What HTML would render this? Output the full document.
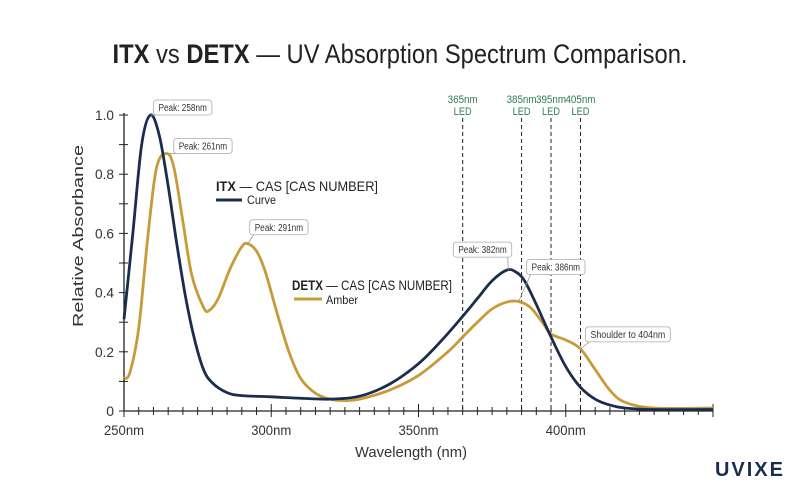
<!DOCTYPE html>
<html><head><meta charset="utf-8"><style>
html,body{margin:0;padding:0;background:#fff;}
svg{display:block;font-family:"Liberation Sans Narrow","Liberation Sans",sans-serif;}
</style></head><body>
<svg id="chart" width="800" height="500" viewBox="0 0 800 500">
<text x="400" y="63" text-anchor="middle" font-size="27" fill="#222" textLength="575" lengthAdjust="spacingAndGlyphs"><tspan font-weight="bold">ITX</tspan> vs <tspan font-weight="bold">DETX</tspan> — UV Absorption Spectrum Comparison.</text>
<g id="grid"></g>
<g id="axes"></g>
<g id="series"></g>
<g id="notes"></g>
<text x="83" y="236" transform="rotate(-90 83 236)" text-anchor="middle" font-size="15" fill="#333" textLength="182" lengthAdjust="spacingAndGlyphs">Relative Absorbance</text>
<text x="355" y="457" font-size="15" fill="#333" textLength="112" lengthAdjust="spacingAndGlyphs">Wavelength (nm)</text>
<g>
<text x="216" y="191" font-size="14" fill="#222" textLength="162" lengthAdjust="spacingAndGlyphs"><tspan font-weight="bold">ITX</tspan> — CAS [CAS NUMBER]</text>
<line x1="216" y1="200" x2="242" y2="200" stroke="#1b2d4f" stroke-width="3"/>
<text x="247" y="204" font-size="12" fill="#222" textLength="29" lengthAdjust="spacingAndGlyphs">Curve</text>
</g>
<g>
<text x="292" y="290" font-size="14" fill="#222" textLength="160" lengthAdjust="spacingAndGlyphs"><tspan font-weight="bold">DETX</tspan> — CAS [CAS NUMBER]</text>
<line x1="294" y1="299" x2="322" y2="299" stroke="#c99a3a" stroke-width="3"/>
<text x="326" y="304" font-size="12" fill="#222" textLength="32" lengthAdjust="spacingAndGlyphs">Amber</text>
</g>
<text x="785" y="476" text-anchor="end" font-family="Liberation Sans,sans-serif" font-weight="bold" font-size="20" letter-spacing="2" fill="#1b2d4f">UVIXE</text>
</svg>
<script>
const itxNm=[250,253,256,259,262,265,268,271,274,277,280,285,290,300,310,320,330,340,350,358,365,370,375,380,383,386,390,395,400,405,410,415,420,430,450];
const itxVal=[0.31,0.6,0.9,1.0,0.93,0.76,0.56,0.38,0.24,0.14,0.095,0.062,0.052,0.048,0.043,0.04,0.05,0.09,0.16,0.24,0.32,0.38,0.44,0.476,0.47,0.44,0.36,0.25,0.15,0.08,0.04,0.02,0.01,0.005,0.005];
const detxNm=[250,252,255,258,261,264.5,267,270,273,277,279,282,286,290,292,295,298,302,306,310,315,320,325,330,340,350,360,365,370,375,380,384,388,392,395,400,405,410,415,420,430,450];
const detxVal=[0.11,0.13,0.28,0.58,0.82,0.87,0.82,0.64,0.46,0.35,0.34,0.38,0.48,0.555,0.565,0.54,0.47,0.33,0.2,0.11,0.06,0.04,0.035,0.04,0.07,0.12,0.2,0.25,0.3,0.345,0.368,0.37,0.35,0.3,0.26,0.24,0.21,0.14,0.07,0.03,0.01,0.01];
const yTicks=[0,0.2,0.4,0.6,0.8,1.0];
const yTickLabels=["0","0.2","0.4","0.6","0.8","1.0"];
const xTicks=[250,300,350,400];
const xTickLabels=["250nm","300nm","350nm","400nm"];
const ledNm=[365,385,395,405];
const ledLabels=["365nm","385nm","395nm","405nm"];
const noteNm=[259,264.5,292,380.5,384,405];
const noteVal=[1.0,0.87,0.565,0.476,0.37,0.21];
const noteLabels=["Peak: 258nm","Peak: 261nm","Peak: 291nm","Peak: 382nm","Peak: 386nm","Shoulder to 404nm"];

const NS="http://www.w3.org/2000/svg";
const X0=124,X1=713,NM0=250,NM1=450,Y0=411,Y1=115;
const xs=nm=>X0+(nm-NM0)*(X1-X0)/(NM1-NM0);
const ys=v=>Y0-(v)*(Y0-Y1);
function mk(tag,attrs,parent){const e=document.createElementNS(NS,tag);for(const k in attrs)e.setAttribute(k,attrs[k]);parent.appendChild(e);return e;}
const axes=document.getElementById('axes'),series=document.getElementById('series'),notes=document.getElementById('notes'),grid=document.getElementById('grid');

ledNm.forEach((nm,i)=>{
 const x=xs(nm);
 const l=mk('line',{x1:x,y1:118,x2:x,y2:Y0,stroke:'#222','stroke-width':1,'stroke-dasharray':'4,3'},grid);
 
 
 const t=mk('text',{x:x,y:103,'text-anchor':'middle','font-size':11,fill:'#2e7d4f',textLength:30,lengthAdjust:'spacingAndGlyphs'},grid);
 t.textContent=ledLabels[i];
 
 
 const t2=mk('text',{x:x,y:115,'text-anchor':'middle','font-size':11,fill:'#2e7d4f',textLength:18,lengthAdjust:'spacingAndGlyphs'},grid);
 t2.textContent='LED';
 
 
});

const ya=mk('line',{x1:X0,y1:Y1-2,x2:X0,y2:Y0,stroke:'#222','stroke-width':1.3},axes);


const xa=mk('line',{x1:X0,y1:Y0,x2:X1,y2:Y0,stroke:'#222','stroke-width':1.3},axes);


for(let v=0;v<=1.001;v+=0.1){mk('line',{x1:X0-5,y1:ys(v),x2:X0+4,y2:ys(v),stroke:'#222','stroke-width':1},axes);}
yTicks.forEach((v,i)=>{const t=mk('text',{x:X0-10,y:ys(v)+5,'text-anchor':'end','font-size':14,fill:'#333'},axes);t.textContent=yTickLabels[i];
 if(yTickLabels[i].length>1){t.setAttribute('textLength',19);t.setAttribute('lengthAdjust','spacingAndGlyphs');}
 
 });
for(let nm=250;nm<=450;nm+=5){const maj=nm%50===0;mk('line',{x1:xs(nm),y1:Y0-(maj?7:4),x2:xs(nm),y2:Y0+(maj?6:4),stroke:'#222','stroke-width':1},axes);}
xTicks.forEach((v,i)=>{const t=mk('text',{x:xs(v),y:435,'text-anchor':'middle','font-size':14,fill:'#333',textLength:40,lengthAdjust:'spacingAndGlyphs'},axes);t.textContent=xTickLabels[i];
 
 });

function smooth(nms,vals){const p=nms.map((n,i)=>[xs(n),ys(vals[i])]);let d='M'+p[0][0]+','+p[0][1];
 for(let i=0;i<p.length-1;i++){const a=p[i-1]||p[i],b=p[i],c=p[i+1],e=p[i+2]||c;
 d+=' C'+(b[0]+(c[0]-a[0])/6)+','+(b[1]+(c[1]-a[1])/6)+' '+(c[0]-(e[0]-b[0])/6)+','+(c[1]-(e[1]-b[1])/6)+' '+c[0]+','+c[1];}return d;}
const pd=mk('path',{d:smooth(detxNm,detxVal),fill:'none',stroke:'#c99a3a','stroke-width':2.8},series);


const pi=mk('path',{d:smooth(itxNm,itxVal),fill:'none',stroke:'#1b2d4f','stroke-width':2.8},series);



const off=[[3,-15],[7,-15],[2,-24],[-55,-28],[8,-42],[5,-22]];
noteNm.forEach((nm,i)=>{
 const px=xs(nm),py=ys(noteVal[i]);
 const lbl=noteLabels[i];const tl=lbl.length*4.4;const w=tl+10;
 const bx=px+off[i][0],by=py+off[i][1];
 const g=mk('g',{},notes);
 
 
 const lx=Math.min(Math.max(px,bx+4),bx+w-4);
 mk('line',{x1:px,y1:py,x2:lx,y2:by+15,stroke:'#999','stroke-width':0.8},g);
 mk('rect',{x:bx,y:by,width:w,height:15,rx:3,fill:'#fff',stroke:'#aaa','stroke-width':0.8},g);
 const t=mk('text',{x:bx+5,y:by+11,'font-size':10,fill:'#333',textLength:tl,lengthAdjust:'spacingAndGlyphs'},g);t.textContent=lbl;
});
</script>
</body></html>
